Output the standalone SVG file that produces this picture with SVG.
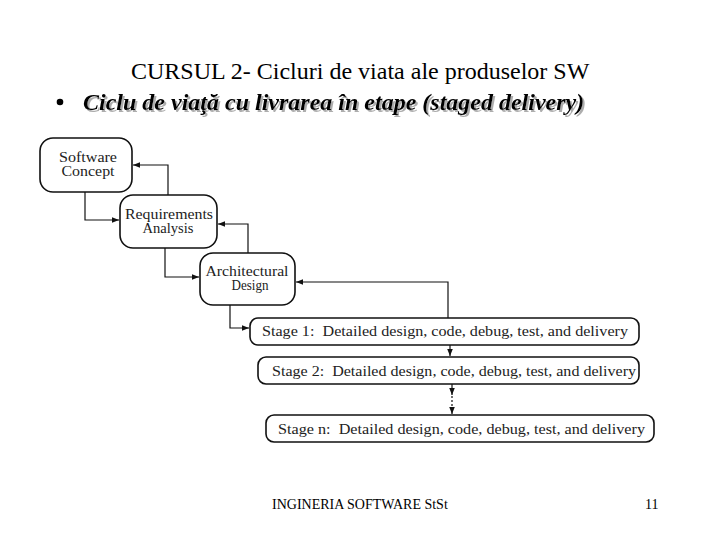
<svg xmlns="http://www.w3.org/2000/svg" width="720" height="540" viewBox="0 0 720 540">
<defs>
<style>
.t{font-family:"Liberation Serif","Times New Roman",serif;fill:#000}
.n{font-family:"Liberation Serif","Times New Roman",serif;font-size:14px;fill:#222;text-anchor:middle}
.s{font-family:"Liberation Serif","Times New Roman",serif;font-size:14.5px;fill:#222;white-space:pre}
.box{fill:#fff;stroke:#111;stroke-width:1.6}
.c{fill:none;stroke:#111;stroke-width:1.2}
.d{fill:none;stroke:#111;stroke-width:1.2;stroke-dasharray:2 2}
</style>
<filter id="sh" x="-5%" y="-30%" width="110%" height="160%">
<feDropShadow dx="2" dy="2" stdDeviation="0.6" flood-color="#999" flood-opacity="0.8"/>
</filter>
<marker id="ah" viewBox="0 0 10 10" refX="10" refY="5" markerWidth="7" markerHeight="7" markerUnits="userSpaceOnUse" orient="auto">
<path d="M0,1 L10,5 L0,9 Z" fill="#111"/>
</marker>
</defs>
<rect width="720" height="540" fill="#fff"/>
<text class="t" x="131" y="79" font-size="24">CURSUL 2- Cicluri de viata ale produselor SW</text>
<circle cx="60" cy="102" r="3.3" fill="#000"/>
<text class="t" x="83" y="110" font-size="24" font-weight="bold" font-style="italic" filter="url(#sh)">Ciclu de viaţă cu livrarea în etape (staged delivery)</text>
<g id="connectors">
<path class="c" d="M85,192 V220 H119" marker-end="url(#ah)"/>
<path class="c" d="M168,195 V165 H133" marker-end="url(#ah)"/>
<path class="c" d="M165,248 V277 H199" marker-end="url(#ah)"/>
<path class="c" d="M248,253 V224 H218" marker-end="url(#ah)"/>
<path class="c" d="M230,305 V328 H249" marker-end="url(#ah)"/>
<path class="c" d="M448,318 V282 H296" marker-end="url(#ah)"/>
<path class="c" d="M450,345 V356" marker-end="url(#ah)"/>
<path class="c" d="M452,384 V395" marker-end="url(#ah)"/>
<path class="d" d="M452,396 V407"/>
<path class="c" d="M452,407 V414" marker-end="url(#ah)"/>
</g>
<g id="software-concept">
<rect class="box" x="40" y="138" width="92" height="54" rx="13"/>
<text class="n" x="88" y="162" textLength="58" lengthAdjust="spacingAndGlyphs">Software</text>
<text class="n" x="88" y="176" textLength="53" lengthAdjust="spacingAndGlyphs">Concept</text>
</g>
<g id="requirements-analysis">
<rect class="box" x="120" y="195" width="97" height="53" rx="13"/>
<text class="n" x="169" y="219" textLength="88" lengthAdjust="spacingAndGlyphs">Requirements</text>
<text class="n" x="168" y="233" textLength="51" lengthAdjust="spacingAndGlyphs">Analysis</text>
</g>
<g id="architectural-design">
<rect class="box" x="200" y="253" width="95" height="52" rx="13"/>
<text class="n" x="247" y="276" textLength="83" lengthAdjust="spacingAndGlyphs">Architectural</text>
<text class="n" x="250" y="290" textLength="37" lengthAdjust="spacingAndGlyphs">Design</text>
</g>
<g id="stage-1">
<rect class="box" x="250" y="318" width="389" height="27" rx="8"/>
<text class="s" x="262" y="336" textLength="366" lengthAdjust="spacingAndGlyphs" xml:space="preserve">Stage 1:  Detailed design, code, debug, test, and delivery</text>
</g>
<g id="stage-2">
<rect class="box" x="258" y="357" width="381" height="27" rx="8"/>
<text class="s" x="272" y="376" textLength="364" lengthAdjust="spacingAndGlyphs" xml:space="preserve">Stage 2:  Detailed design, code, debug, test, and delivery</text>
</g>
<g id="stage-n">
<rect class="box" x="266" y="415" width="388" height="27" rx="8"/>
<text class="s" x="278" y="434" textLength="367" lengthAdjust="spacingAndGlyphs" xml:space="preserve">Stage n:  Detailed design, code, debug, test, and delivery</text>
</g>
<text class="t" x="272" y="509" font-size="14">INGINERIA SOFTWARE StSt</text>
<text class="t" x="645" y="509" font-size="14">11</text>
</svg>
